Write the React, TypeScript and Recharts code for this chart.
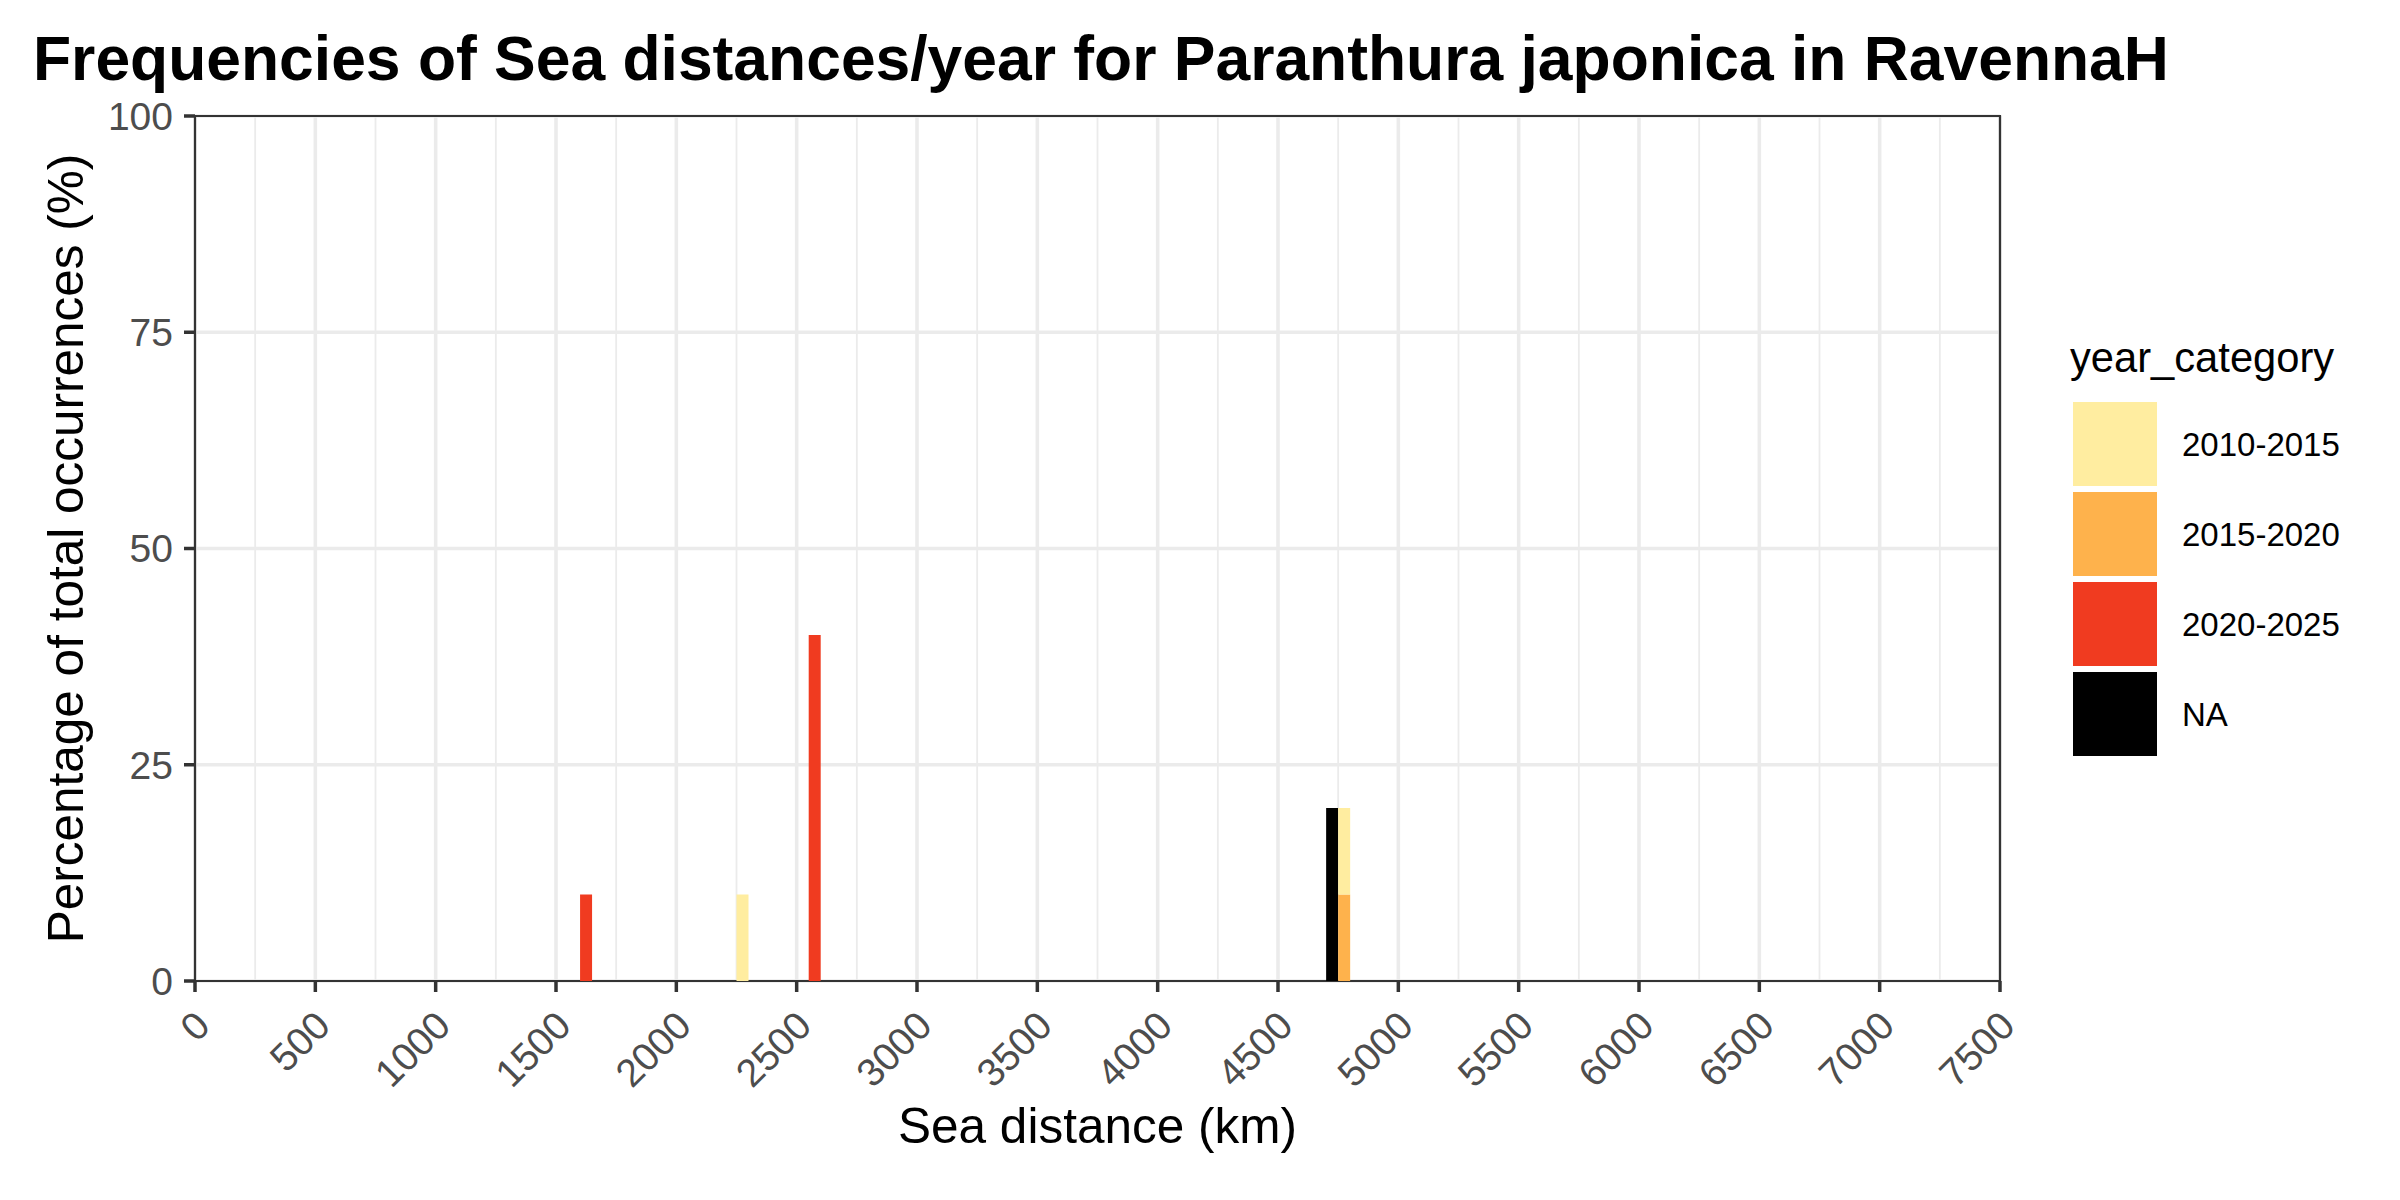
import { BarChart, Bar, XAxis, YAxis, CartesianGrid, ReferenceArea, Label } from "recharts";

// bin centres (km), bins are 50 km wide
const BIN_MIDS = [1625, 2275, 2575, 4725, 4775];

// percentage of total occurrences per year category
const PCT_2010_2015 = [0, 10, 0, 0, 10];
const PCT_2015_2020 = [0, 0, 0, 0, 10];
const PCT_2020_2025 = [10, 0, 40, 0, 0];
const PCT_NA = [0, 0, 0, 20, 0];

const X_TICKS = [0, 500, 1000, 1500, 2000, 2500, 3000, 3500, 4000, 4500, 5000, 5500, 6000, 6500, 7000, 7500];
const X_MINOR = [250, 750, 1250, 1750, 2250, 2750, 3250, 3750, 4250, 4750, 5250, 5750, 6250, 6750, 7250];
const Y_TICKS = [0, 25, 50, 75, 100];
const Y_MINOR = [12.5, 37.5, 62.5, 87.5];

const CATEGORIES = ["2010-2015", "2015-2020", "2020-2025", "NA"];
const COLORS = ["#FFEDA0", "#FEB24C", "#F03B20", "#000000"];

const FONT = "'Liberation Sans', Arial, Helvetica, sans-serif";

const data = BIN_MIDS.map((dist, i) => ({
  dist,
  c2010: PCT_2010_2015[i],
  c2015: PCT_2015_2020[i],
  c2020: PCT_2020_2025[i],
  cna: PCT_NA[i],
}));

function XTick(props: any) {
  const { x, y, payload } = props;
  const ax = x + 17;
  const ay = y + 34;
  return (
    <text
      x={ax}
      y={ay}
      textAnchor="end"
      fontSize={39}
      fontFamily={FONT}
      fill="#4D4D4D"
      transform={`rotate(-45 ${ax} ${ay})`}
    >
      {payload.value}
    </text>
  );
}

function YTitle(props: any) {
  const { viewBox } = props;
  const cx = viewBox.x + 83;
  const cy = viewBox.y + viewBox.height / 2;
  return (
    <text
      x={cx}
      y={cy}
      textAnchor="middle"
      fontSize={49.5}
      fontFamily={FONT}
      fill="#000000"
      transform={`rotate(-90 ${cx} ${cy})`}
    >
      Percentage of total occurrences (%)
    </text>
  );
}

export default function App() {
  return (
    <div
      style={{
        position: "absolute",
        left: 0,
        top: 0,
        width: 2400,
        height: 1200,
        background: "#ffffff",
        fontFamily: FONT,
      }}
    >
      <BarChart
        width={2400}
        height={1200}
        data={data}
        margin={{ top: 116, right: 400, left: 0, bottom: 0 }}
        barCategoryGap={0}
        barGap={0}
      >
        {/* minor grid via hidden axes */}
        <XAxis xAxisId="minor" type="number" dataKey="dist" domain={[0, 7500]} ticks={X_MINOR} interval={0} hide />
        <YAxis yAxisId="minor" type="number" domain={[0, 100]} ticks={Y_MINOR} interval={0} hide />
        <CartesianGrid xAxisId="minor" yAxisId="minor" stroke="#EBEBEB" strokeWidth={1.8} />
        <CartesianGrid stroke="#EBEBEB" strokeWidth={3.6} />

        <XAxis
          type="number"
          dataKey="dist"
          domain={[0, 7500]}
          ticks={X_TICKS}
          interval={0}
          height={219}
          tickSize={11}
          tickMargin={2}
          axisLine={false}
          tickLine={{ stroke: "#333333", strokeWidth: 3.5 }}
          tick={<XTick />}
        >
          <Label
            value="Sea distance (km)"
            position="insideBottom"
            offset={57}
            fontSize={49.5}
            fontFamily={FONT}
            fill="#000000"
          />
        </XAxis>
        <YAxis
          type="number"
          domain={[0, 100]}
          ticks={Y_TICKS}
          interval={0}
          width={195}
          tickSize={11}
          tickMargin={11}
          axisLine={false}
          tickLine={{ stroke: "#333333", strokeWidth: 3.5 }}
          tick={{ fontSize: 39, fill: "#4D4D4D", fontFamily: FONT }}
        >
          <Label content={<YTitle />} />
        </YAxis>

        <Bar dataKey="cna" stackId="a" fill={COLORS[3]} isAnimationActive={false} />
        <Bar dataKey="c2020" stackId="a" fill={COLORS[2]} isAnimationActive={false} />
        <Bar dataKey="c2015" stackId="a" fill={COLORS[1]} isAnimationActive={false} />
        <Bar dataKey="c2010" stackId="a" fill={COLORS[0]} isAnimationActive={false} />

        <ReferenceArea
          x1={0}
          x2={7500}
          y1={0}
          y2={100}
          fill="none"
          stroke="#333333"
          strokeWidth={2.2}
          ifOverflow="visible"
        />
      </BarChart>

      <svg
        width={2400}
        height={1200}
        style={{ position: "absolute", left: 0, top: 0, pointerEvents: "none" }}
      >
        <text x={33} y={80} fontSize={62.4} fontWeight="bold" fontFamily={FONT} fill="#000000">
          Frequencies of Sea distances/year for Paranthura japonica in RavennaH
        </text>
        <text x={2070} y={372} fontSize={41.7} fontFamily={FONT} fill="#000000">
          year_category
        </text>
        {CATEGORIES.map((cat, i) => (
          <g key={cat}>
            <rect x={2073} y={402 + i * 90} width={84} height={84} fill={COLORS[i]} />
            <text
              x={2182}
              y={444 + i * 90}
              dy="0.355em"
              fontSize={33}
              fontFamily={FONT}
              fill="#000000"
            >
              {cat}
            </text>
          </g>
        ))}
      </svg>
    </div>
  );
}
